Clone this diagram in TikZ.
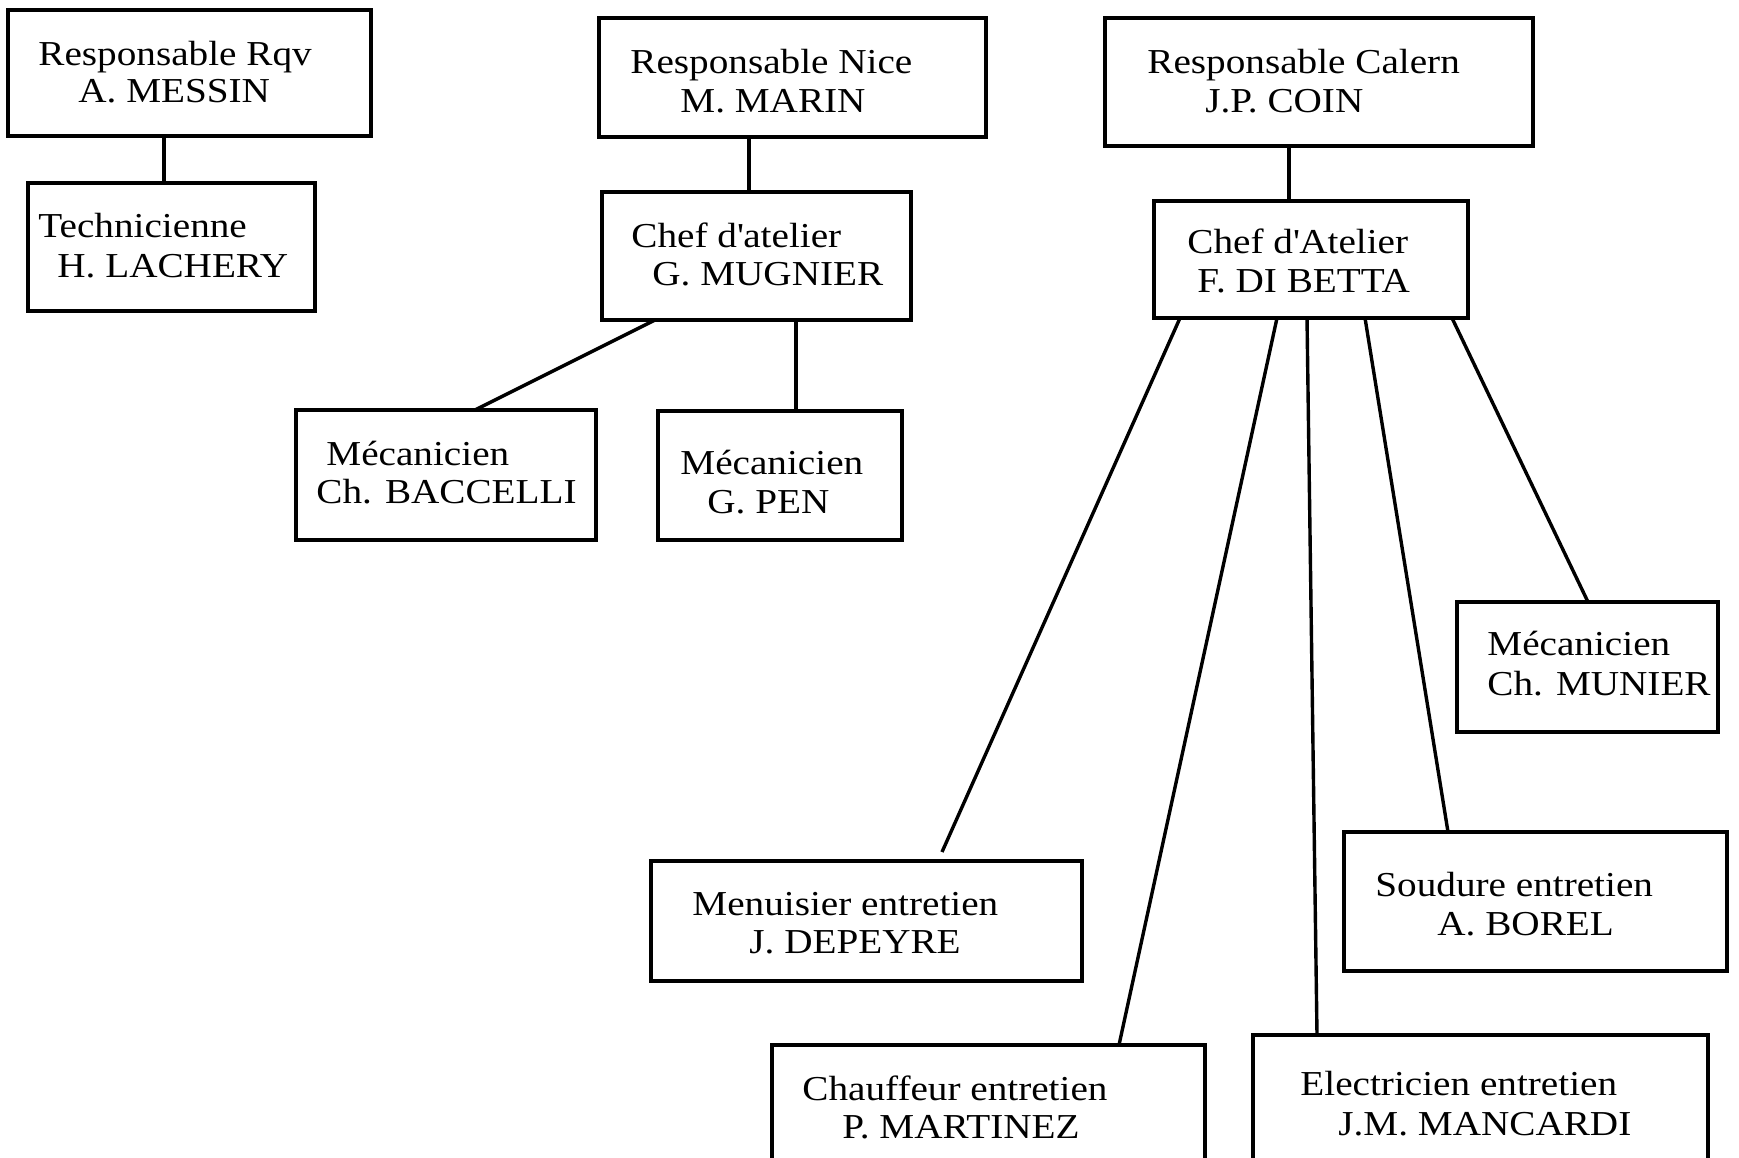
\documentclass[tikz,border=0pt]{standalone}
\usepackage{fontspec}
\setmainfont{Liberation Serif}[FakeStretch=1.12]
\usetikzlibrary{fit}
\begin{document}
\begin{tikzpicture}[x=0.5pt,y=-0.5pt,
  box/.style={draw, line width=1.7pt, inner sep=0pt, outer sep=0pt},
  lbl/.style={anchor=base west, inner sep=0pt, font=\fontsize{17.5}{20}\selectfont},
  conn/.style={line width=1.7pt}]
\clip (0,0) rectangle (1739,1157);
\fill[white] (0,0) rectangle (1739,1157);
% boxes
\node[box, fit={(8,10) (371,136)}] (rqv) {};
\node[box, fit={(28,183) (315,311)}] (tech) {};
\node[box, fit={(599,18) (986,137)}] (nice) {};
\node[box, fit={(602,192) (911,320)}] (mugnier) {};
\node[box, fit={(296,410) (596,540)}] (baccelli) {};
\node[box, fit={(658,411) (902,540)}] (pen) {};
\node[box, fit={(1105,18) (1533,146)}] (calern) {};
\node[box, fit={(1154,201) (1468,318)}] (dibetta) {};
\node[box, fit={(1457,602) (1718,732)}] (munier) {};
\node[box, fit={(1344,832) (1727,971)}] (soudure) {};
\node[box, fit={(651,861) (1082,981)}] (menuisier) {};
\node[box, fit={(772,1045) (1205,1200)}] (chauffeur) {};
\node[box, fit={(1253,1035) (1708,1200)}] (electricien) {};
% texts
\node[lbl] (t1a) at (38,65) {Responsable Rqv};
\node[lbl] (t1b) at (78,102) {A. MESSIN};
\node[lbl] (t2a) at (38,237) {Technicienne};
\node[lbl] (t2b) at (57,277) {H. LACHERY};
\node[lbl] (t3a) at (630,73) {Responsable Nice};
\node[lbl] (t3b) at (680,112) {M. MARIN};
\node[lbl] (t4a) at (631,247) {Chef d\textquotesingle atelier};
\node[lbl] (t4b) at (652,285) {G. MUGNIER};
\node[lbl] (t5a) at (326,465) {Mécanicien};
\node[lbl] (t5b) at (316,503) {Ch. BACCELLI};
\node[lbl] (t6a) at (680,474) {Mécanicien};
\node[lbl] (t6b) at (707,513) {G. PEN};
\node[lbl] (t7a) at (1147,73) {Responsable Calern};
\node[lbl] (t7b) at (1205,112) {J.P. COIN};
\node[lbl] (t8a) at (1187,253) {Chef d\textquotesingle Atelier};
\node[lbl] (t8b) at (1197,292) {F. DI BETTA};
\node[lbl] (t9a) at (1487,655) {Mécanicien};
\node[lbl] (t9b) at (1487,695) {Ch. MUNIER};
\node[lbl] (t10a) at (1375,896) {Soudure entretien};
\node[lbl] (t10b) at (1437,935) {A. BOREL};
\node[lbl] (t11a) at (692,915) {Menuisier entretien};
\node[lbl] (t11b) at (749,953) {J. DEPEYRE};
\node[lbl] (t12a) at (802,1100) {Chauffeur entretien};
\node[lbl] (t12b) at (842,1138) {P. MARTINEZ};
\node[lbl] (t13a) at (1300,1095) {Electricien entretien};
\node[lbl] (t13b) at (1338,1135) {J.M. MANCARDI};
% connectors
\draw[conn] ([xshift=78pt]rqv.south west) -- ([xshift=68pt]tech.north west);
\draw[conn] ([xshift=75pt]nice.south west) -- ([xshift=73.5pt]mugnier.north west);
\draw[conn] ([xshift=26.5pt]mugnier.south west) -- ([xshift=89.5pt]baccelli.north west);
\draw[conn] ([xshift=97pt]mugnier.south west) -- ([xshift=69pt]pen.north west);
\draw[conn] ([xshift=92pt]calern.south west) -- ([xshift=67.5pt]dibetta.north west);
\draw[conn] ([xshift=13pt]dibetta.south west) -- ([xshift=145.5pt,yshift=4.5pt]menuisier.north west);
\draw[conn] ([xshift=61.5pt]dibetta.south west) -- ([xshift=173.5pt]chauffeur.north west);
\draw[conn] ([xshift=76.5pt]dibetta.south west) -- ([xshift=32pt]electricien.north west);
\draw[conn] ([xshift=105.5pt]dibetta.south west) -- ([xshift=52pt]soudure.north west);
\draw[conn] ([xshift=149pt]dibetta.south west) -- ([xshift=65.5pt]munier.north west);
\end{tikzpicture}
\end{document}
